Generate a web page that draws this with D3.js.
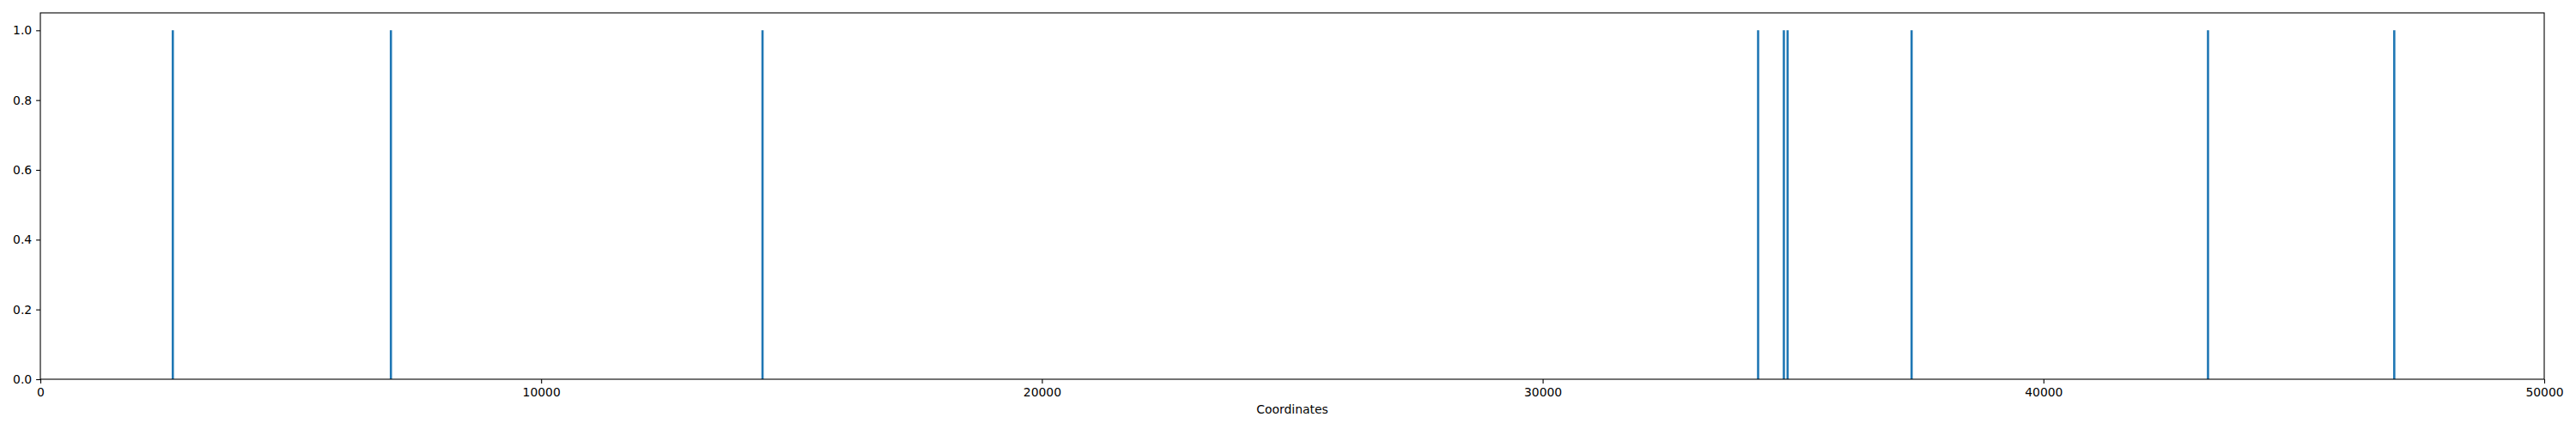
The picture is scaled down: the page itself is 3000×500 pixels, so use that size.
<!DOCTYPE html>
<html>
<head>
<meta charset="utf-8">
<script src="https://cdn.jsdelivr.net/npm/d3@7"></script>
<style>
  body { margin: 0; background: #fff; }
  svg { display: block; }
  .tick text { font-family: "DejaVu Sans", sans-serif; font-size: 13.9px; fill: #000; }
  .axis-label { font-family: "DejaVu Sans", sans-serif; font-size: 13.9px; fill: #000; }
</style>
</head>
<body>
<svg id="chart"></svg>
<script>
// positions of the marks along the sequence
const positions = [2645, 7000, 14421, 34302, 34816, 34891, 37367, 43286, 47005];
const heights = [1, 1, 1, 1, 1, 1, 1, 1, 1];
const xTicks = [0, 10000, 20000, 30000, 40000, 50000];
const yTicks = [0, 0.2, 0.4, 0.6, 0.8, 1.0];

const width = 3000, height = 500;
const margin = { top: 15, right: 37, bottom: 58, left: 47 };

const svg = d3.select("#chart")
    .attr("width", width)
    .attr("height", height);

const x = d3.scaleLinear()
    .domain([0, 50000])
    .range([margin.left, width - margin.right]);

const y = d3.scaleLinear()
    .domain([0, 1.05])
    .range([height - margin.bottom, margin.top]);

// spikes
svg.append("g")
    .selectAll("line")
    .data(positions)
    .enter()
    .append("line")
    .attr("x1", d => x(d))
    .attr("x2", d => x(d))
    .attr("y1", y(0))
    .attr("y2", (d, i) => y(heights[i]))
    .attr("stroke", "#1f77b4")
    .attr("stroke-width", 2.6);

// axes
const xAxis = svg.append("g")
    .attr("transform", `translate(0,${height - margin.bottom})`)
    .call(d3.axisBottom(x).tickValues(xTicks).tickFormat(d3.format("d")).tickSize(4.9).tickPadding(4.9));

const yAxis = svg.append("g")
    .attr("transform", `translate(${margin.left},0)`)
    .call(d3.axisLeft(y).tickValues(yTicks).tickFormat(d3.format(".1f")).tickSize(4.9).tickPadding(4.9));

[xAxis, yAxis].forEach(a => {
    a.select(".domain").remove();
    a.selectAll(".tick line").attr("stroke", "#000").attr("stroke-width", 1.1);
});
xAxis.selectAll(".tick text").attr("dy", "0.75em");

// frame
svg.append("rect")
    .attr("x", margin.left)
    .attr("y", margin.top)
    .attr("width", width - margin.left - margin.right)
    .attr("height", height - margin.top - margin.bottom)
    .attr("fill", "none")
    .attr("stroke", "#000")
    .attr("stroke-width", 1.1);

svg.append("text")
    .attr("class", "axis-label")
    .attr("x", (margin.left + width - margin.right) / 2)
    .attr("y", 482)
    .attr("text-anchor", "middle")
    .text("Coordinates");
</script>
</body>
</html>
